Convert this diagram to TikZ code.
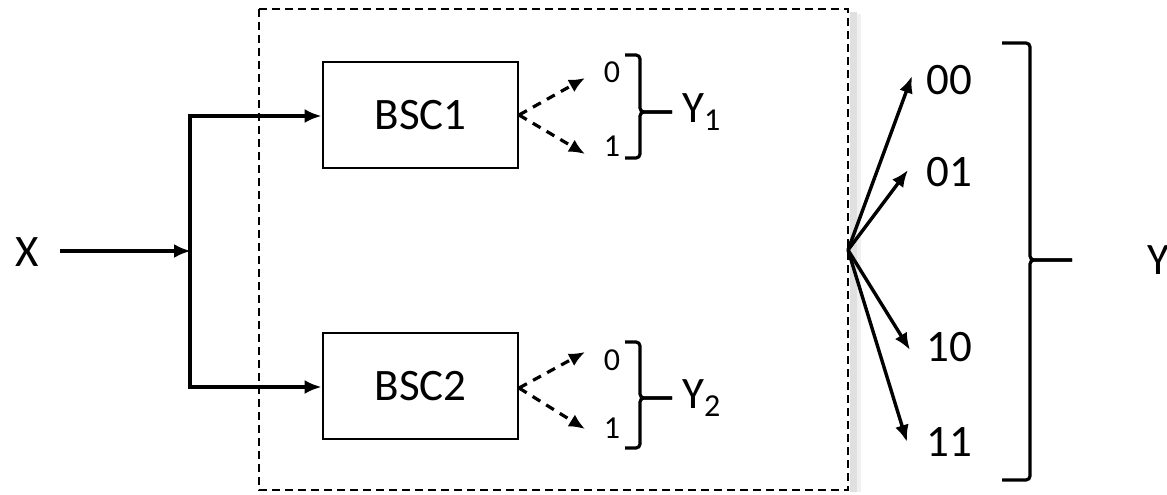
\documentclass[tikz,border=0pt]{standalone}
\usepackage{fontspec}
\setmainfont{Carlito}
\usetikzlibrary{arrows.meta}
\begin{document}
\begin{tikzpicture}[x=1pt,y=-1pt,
  big/.style={font=\fontsize{45}{50}\selectfont, inner sep=0pt},
  small/.style={font=\fontsize{32}{36}\selectfont, inner sep=0pt},
  bscbox/.style={draw, line width=2.8pt, minimum width=195pt, minimum height=106pt, inner sep=0pt, font=\fontsize{45}{50}\selectfont},
  arr/.style={line width=3.4pt, -{Latex[length=17pt,width=14pt]}},
  darr/.style={line width=3.2pt, dash pattern=on 9pt off 7pt, -{Latex[length=16pt,width=14pt]}},
  brk/.style={line width=3.2pt, rounded corners=4pt},
  dbox/.style={line width=2pt, dash pattern=on 8pt off 5pt}
]
\useasboundingbox (0,0) rectangle (1167,495);
% shadow of dashed box
\fill[black!12] (850,12) rectangle (857,492);
\fill[black!6] (857,14) rectangle (861,492);
\draw[dbox] (259,9) rectangle (848,490);

\node[bscbox] (b1) at (420.5,115) {BSC1};
\node[bscbox] (b2) at (420.5,386) {BSC2};

\node[big] (x) at (27,252) {X};
\coordinate (xs) at (60,251);
\coordinate (j) at (191,251);
\coordinate (jt) at (190,116);
\coordinate (jb) at (190,387);
\draw[arr] (xs) -- (j);
\draw[line width=3.4pt] (jt) -- (jb);
\draw[arr] ([xshift=-1.7pt]jt) -- (b1.west |- jt);
\draw[arr] ([xshift=-1.7pt]jb) -- (b2.west |- jb);

% BSC1 outputs
\coordinate (o1) at (519,115);
\coordinate (t10) at (585,78);
\coordinate (t11) at (585,154);
\draw[darr] (o1) -- (t10);
\draw[darr] (o1) -- (t11);
\node[small] (l10) at (612,72) {0};
\node[small] (l11) at (612,146) {1};
\coordinate (y1t) at (672,112);
\draw[brk] (625,55) -| (640,112) -- (y1t);
\draw[brk] (625,158) -| (640,112) -- (y1t);
\node[big, anchor=west] (y1) at (682,112) {Y\raisebox{-0.35ex}{\fontsize{32}{36}\selectfont 1}};

% BSC2 outputs
\coordinate (o2) at (519,388);
\coordinate (t20) at (585,352);
\coordinate (t21) at (585,429);
\draw[darr] (o2) -- (t20);
\draw[darr] (o2) -- (t21);
\node[small] (l20) at (612,360) {0};
\node[small] (l21) at (612,428) {1};
\coordinate (y2t) at (672,398);
\draw[brk] (625,342) -| (640,398) -- (y2t);
\draw[brk] (625,448) -| (640,398) -- (y2t);
\node[big, anchor=west] (y2) at (682,398) {Y\raisebox{-0.35ex}{\fontsize{32}{36}\selectfont 2}};

% fan
\coordinate (f) at (848,250);
\node[big, anchor=west] (n00) at (926,80) {00};
\node[big, anchor=west] (n01) at (926,172) {01};
\node[big, anchor=west] (n10) at (926,347) {10};
\node[big, anchor=west] (n11) at (926,442) {11};
\draw[arr] (f) -- (912,76);
\draw[arr] (f) -- (908,170);
\draw[arr] (f) -- (910,350);
\draw[arr] (f) -- (907,442);

% big bracket
\coordinate (yt) at (1072,260);
\draw[brk] (1002,43) -| (1030,260) -- (yt);
\draw[brk] (1002,480) -| (1030,260) -- (yt);
\node[big, anchor=west] (y) at (1147,260) {Y};
\end{tikzpicture}
\end{document}
